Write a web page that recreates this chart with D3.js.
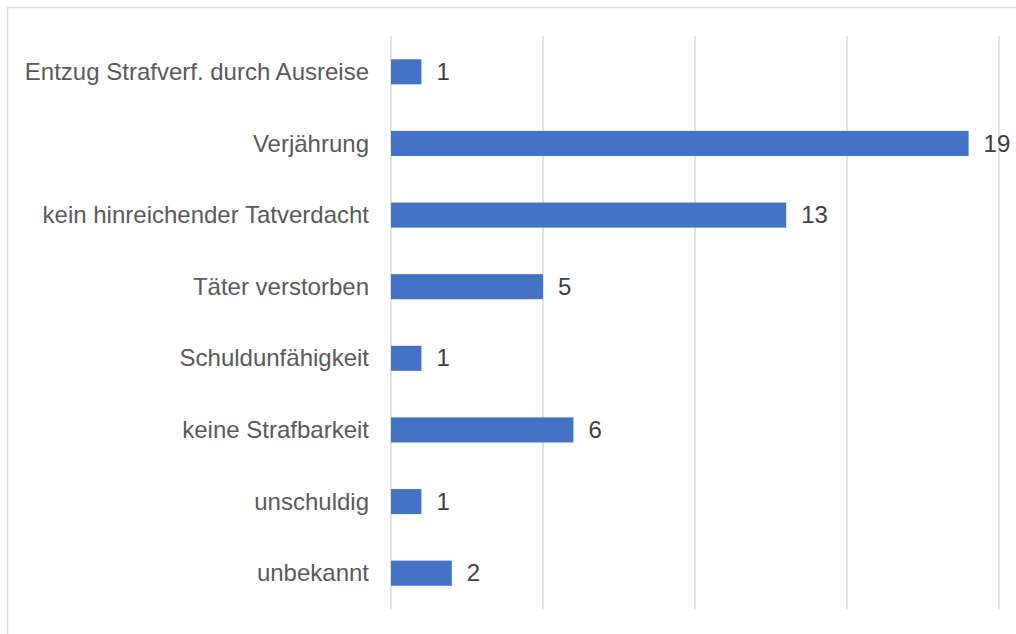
<!DOCTYPE html>
<html>
<head>
<meta charset="utf-8">
<script src="https://cdn.jsdelivr.net/npm/d3@7"></script>
<style>
  body { margin: 0; background: #fff; }
  svg { display: block; font-family: "Liberation Sans", Arial, sans-serif; }
</style>
</head>
<body>
<div id="container"></div>
<script>
// Daten
const categories = [
  'Entzug Strafverf. durch Ausreise',
  'Verjährung',
  'kein hinreichender Tatverdacht',
  'Täter verstorben',
  'Schuldunfähigkeit',
  'keine Strafbarkeit',
  'unschuldig',
  'unbekannt'
];
const values = [1, 19, 13, 5, 1, 6, 1, 2];
const xTicks = [0, 5, 10, 15, 20];

let width = 1016;
let height = 634;
let margin = { top: 36, right: 17, bottom: 25, left: 391 };

let svg = d3.create('svg').attr('width', width).attr('height', height);

// Rahmen
svg.append('rect')
  .attr('x', 7.5).attr('y', 7.5)
  .attr('width', width + 20).attr('height', height + 20)
  .attr('fill', 'none')
  .attr('stroke', '#d9d9d9')
  .attr('stroke-width', 1.5);

let x = d3.scaleLinear().domain([0, 20]).range([margin.left, width - margin.right]);
let y = d3.scaleBand()
  .domain(categories)
  .range([margin.top, height - margin.bottom])
  .paddingInner(0.65)
  .paddingOuter(0.325);

// Gitterlinien
svg.selectAll('.grid')
  .data(xTicks)
  .enter()
  .append('line')
  .attr('class', 'grid')
  .attr('x1', d => x(d)).attr('x2', d => x(d))
  .attr('y1', margin.top).attr('y2', height - margin.bottom)
  .attr('stroke', '#d9d9d9')
  .attr('stroke-width', 1.5);

// Balken
svg.selectAll('.bar')
  .data(values)
  .enter()
  .append('rect')
  .attr('class', 'bar')
  .attr('x', x(0))
  .attr('y', (d, i) => y(categories[i]))
  .attr('width', d => x(d) - x(0))
  .attr('height', y.bandwidth())
  .attr('fill', '#4472c4');

// Kategorien
svg.selectAll('.cat')
  .data(categories)
  .enter()
  .append('text')
  .attr('class', 'cat')
  .attr('x', margin.left - 22)
  .attr('y', d => y(d) + y.bandwidth() / 2)
  .attr('dy', '0.34em')
  .attr('text-anchor', 'end')
  .attr('font-size', '24px')
  .attr('fill', '#595959')
  .text(d => d);

// Werte
svg.selectAll('.val')
  .data(values)
  .enter()
  .append('text')
  .attr('class', 'val')
  .attr('x', d => x(d) + 15)
  .attr('y', (d, i) => y(categories[i]) + y.bandwidth() / 2)
  .attr('dy', '0.34em')
  .attr('font-size', '24px')
  .attr('fill', '#404040')
  .text(d => d);

d3.select('#container').append(() => svg.node());
</script>
</body>
</html>
